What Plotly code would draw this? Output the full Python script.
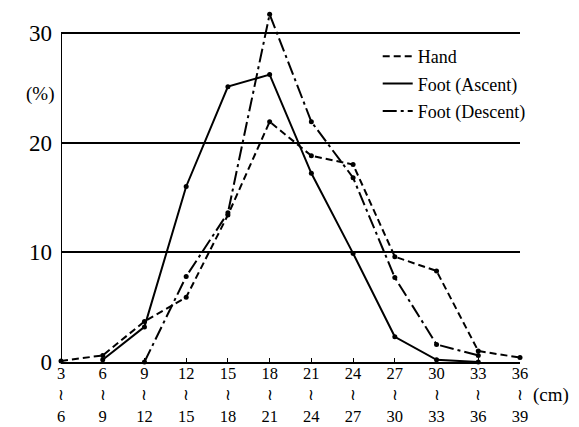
import plotly.graph_objects as go

# Size classes (cm): lower bound of each 3 cm class
class_lo = [3, 6, 9, 12, 15, 18, 21, 24, 27, 30, 33, 36]
class_hi = [6, 9, 12, 15, 18, 21, 24, 27, 30, 33, 36, 39]

# Percentage of individuals in each class
hand = [0.1, 0.6, 3.7, 5.9, 13.4, 21.9, 18.8, 18.0, 9.6, 8.3, 1.0, 0.4]
foot_ascent = [None, 0.2, 3.2, 16.0, 25.1, 26.2, 17.2, 9.9, 2.3, 0.2, 0.0, None]
foot_descent = [None, None, 0.0, 7.8, 13.6, 31.7, 21.9, 16.8, 7.7, 1.6, 0.6, None]

y_ticks = [0, 10, 20, 30]

SERIF = "Times New Roman, Liberation Serif, DejaVu Serif, serif"

tick_text = [
    f"{lo}<br><span style='font-size:16px'>≀</span><br>{hi}"
    for lo, hi in zip(class_lo, class_hi)
]

series = [
    ("Hand", hand, dict(color="black", width=2, dash="7px,4px")),
    ("Foot (Ascent)", foot_ascent, dict(color="black", width=2)),
    ("Foot (Descent)", foot_descent, dict(color="black", width=2, dash="14px,4px,3px,4px")),
]

fig = go.Figure()
for i, (name, vals, line) in enumerate(series):
    fig.add_trace(go.Scatter(
        x=class_lo, y=vals, mode="lines", name=name, line=line,
        legendgroup=f"g{i}", connectgaps=False, cliponaxis=False,
    ))
    fig.add_trace(go.Scatter(
        x=class_lo, y=vals, mode="markers", showlegend=False,
        marker=dict(color="black", size=5), cliponaxis=False,
    ))

# left axis line spans 0..30 only
fig.add_shape(type="line", xref="x", yref="y", x0=3, x1=3, y0=0, y1=30,
              line=dict(color="black", width=2))

fig.add_annotation(text="(%)", xref="paper", yref="y", x=-0.045, y=24.4,
                   showarrow=False, font=dict(family=SERIF, size=19, color="black"),
                   xanchor="center")
fig.add_annotation(text="(cm)", xref="paper", yref="paper", x=1.025, y=-0.09,
                   showarrow=False, font=dict(family=SERIF, size=19, color="black"),
                   xanchor="left", yanchor="middle")

fig.update_layout(
    width=579, height=427,
    margin=dict(l=61, r=59, t=0, b=65, autoexpand=False),
    paper_bgcolor="white", plot_bgcolor="white",
    font=dict(family=SERIF, color="black"),
    showlegend=True,
    legend=dict(x=0.69, y=0.895, xanchor="left", yanchor="top",
                bgcolor="rgba(0,0,0,0)", font=dict(family=SERIF, size=18),
                traceorder="grouped", tracegroupgap=1, itemwidth=30),
    xaxis=dict(
        range=[3, 36], tickmode="array", tickvals=class_lo, ticktext=tick_text,
        showline=True, linecolor="black", linewidth=2, ticks="inside",
        ticklen=4, tickcolor="black", showgrid=False, zeroline=False,
        automargin=False, ticklabelstandoff=-5,
        tickfont=dict(family=SERIF, size=16.5, color="black"),
    ),
    yaxis=dict(
        range=[0, 33], tickmode="array", tickvals=y_ticks,
        showline=False, showgrid=True, gridcolor="black", gridwidth=1.5,
        zeroline=False, ticks="", ticklabelstandoff=8, automargin=False,
        tickfont=dict(family=SERIF, size=23, color="black"),
    ),
)

fig.write_html("out.html")
